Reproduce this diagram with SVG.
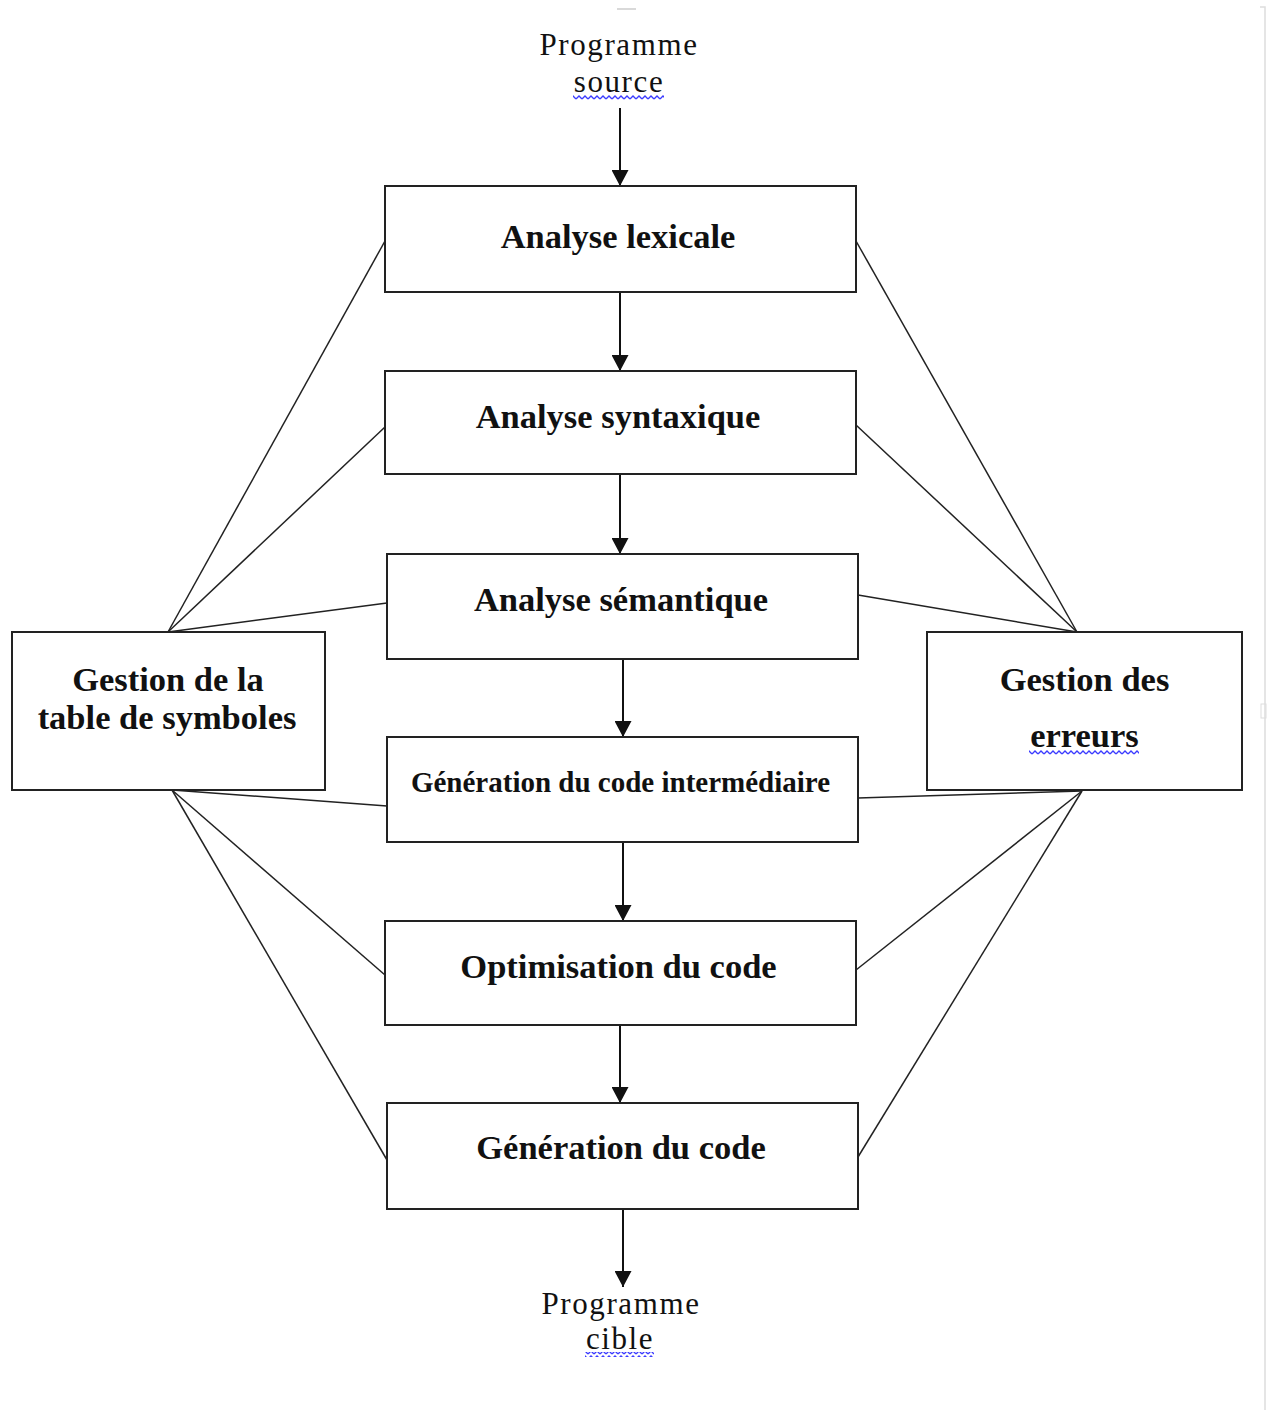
<svg xmlns="http://www.w3.org/2000/svg" width="1267" height="1410" viewBox="0 0 1267 1410">
<defs>
<style>
.box{fill:#fff;stroke:#222;stroke-width:2}
.lbl{font-family:"Liberation Serif","Times New Roman",serif;font-weight:bold;font-size:34.5px;fill:#111;text-anchor:middle}
.lbl.sm{font-size:29px}
.io{font-family:"Liberation Serif","Times New Roman",serif;font-size:31px;letter-spacing:1.6px;fill:#111;text-anchor:middle}
.arr{stroke:#111;stroke-width:2;fill:none;marker-end:url(#ah)}
.lk{stroke:#222;stroke-width:1.5;fill:none}
</style>
<marker id="ah" markerWidth="16" markerHeight="17" refX="16" refY="8.5" orient="auto" markerUnits="userSpaceOnUse">
<path d="M0,0 L16,8.5 L0,17 z" fill="#111"/>
</marker>
<pattern id="wave" x="0" y="0" width="6" height="5" patternUnits="userSpaceOnUse">
<path d="M0,4 L3,1 L6,4" fill="none" stroke="#3b3bff" stroke-width="1.4"/>
</pattern>
</defs>
<rect width="1267" height="1410" fill="#fff"/>
<!-- faint page artifacts -->
<line x1="617" y1="9" x2="636" y2="9" stroke="#ccc" stroke-width="1.5"/>
<path d="M1260,7 L1265,7 L1265,1410" stroke="#ddd" stroke-width="1.5" fill="none"/>
<rect x="1261" y="704" width="5" height="14" fill="none" stroke="#ddd" stroke-width="1"/>

<g id="connectors">
<line class="arr" x1="620" y1="108" x2="620" y2="186"/>
<line class="arr" x1="620" y1="292" x2="620" y2="371"/>
<line class="arr" x1="620" y1="474" x2="620" y2="554"/>
<line class="arr" x1="623" y1="659" x2="623" y2="737"/>
<line class="arr" x1="623" y1="842" x2="623" y2="921"/>
<line class="arr" x1="620" y1="1025" x2="620" y2="1103"/>
<line class="arr" x1="623" y1="1209" x2="623" y2="1287"/>
<line class="lk" x1="168" y1="632" x2="385" y2="241"/>
<line class="lk" x1="168" y1="632" x2="385" y2="427"/>
<line class="lk" x1="168" y1="632" x2="387" y2="603"/>
<line class="lk" x1="172" y1="790" x2="387" y2="806"/>
<line class="lk" x1="172" y1="790" x2="385" y2="975"/>
<line class="lk" x1="172" y1="790" x2="387" y2="1160"/>
<line class="lk" x1="1077" y1="632" x2="856" y2="241"/>
<line class="lk" x1="1077" y1="632" x2="856" y2="425"/>
<line class="lk" x1="1077" y1="632" x2="858" y2="595"/>
<line class="lk" x1="1082" y1="791" x2="858" y2="798"/>
<line class="lk" x1="1082" y1="791" x2="856" y2="970"/>
<line class="lk" x1="1082" y1="791" x2="858" y2="1157"/>
</g>

<g id="source">
<text class="io" x="619" y="55">Programme</text>
<text class="io" x="619" y="92">source</text>
<rect x="573" y="95" width="91" height="5" fill="url(#wave)"/>
</g>

<g id="lexicale">
<rect class="box" x="385" y="186" width="471" height="106"/>
<text class="lbl" x="618" y="248">Analyse lexicale</text>
</g>
<g id="syntaxique">
<rect class="box" x="385" y="371" width="471" height="103"/>
<text class="lbl" x="618" y="428">Analyse syntaxique</text>
</g>
<g id="semantique">
<rect class="box" x="387" y="554" width="471" height="105"/>
<text class="lbl" x="621" y="611">Analyse sémantique</text>
</g>
<g id="intermediaire">
<rect class="box" x="387" y="737" width="471" height="105"/>
<text class="lbl sm" x="620.5" y="792">Génération du code intermédiaire</text>
</g>
<g id="optimisation">
<rect class="box" x="385" y="921" width="471" height="104"/>
<text class="lbl" x="618.5" y="978">Optimisation du code</text>
</g>
<g id="generation">
<rect class="box" x="387" y="1103" width="471" height="106"/>
<text class="lbl" x="621" y="1159">Génération du code</text>
</g>
<g id="symboles">
<rect class="box" x="12" y="632" width="313" height="158"/>
<text class="lbl" x="168" y="691">Gestion de la</text>
<text class="lbl" x="167" y="729">table de symboles</text>
</g>
<g id="erreurs">
<rect class="box" x="927" y="632" width="315" height="158"/>
<text class="lbl" x="1084.5" y="691">Gestion des</text>
<text class="lbl" x="1084.5" y="747">erreurs</text>
<rect x="1029" y="750" width="110" height="5" fill="url(#wave)"/>
</g>

<g id="cible">
<text class="io" x="621" y="1314">Programme</text>
<text class="io" x="620" y="1349">cible</text>
<rect x="585" y="1352" width="69" height="5" fill="url(#wave)"/>
</g>
</svg>
